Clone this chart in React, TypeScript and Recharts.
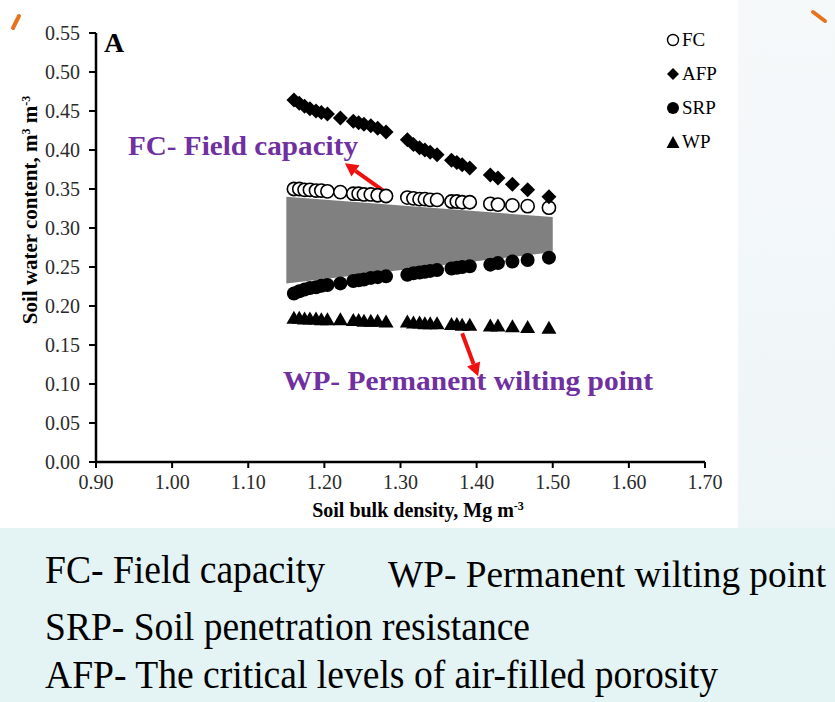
import React from "react";
import { ComposedChart, Area, Scatter, XAxis, YAxis, Legend, ReferenceLine } from "recharts";

// soil bulk density (Mg m-3) of each sample
const bulkDensity = [
  1.16, 1.167, 1.174, 1.181, 1.189, 1.196, 1.204, 1.221, 1.238, 1.245, 1.252, 1.261, 1.27, 1.281, 1.309,
  1.317, 1.325, 1.332, 1.339, 1.348, 1.367, 1.374, 1.381, 1.391, 1.418, 1.428, 1.447, 1.467, 1.495,
];
const fcValues = [
  0.35, 0.35, 0.349, 0.349, 0.348, 0.348, 0.347, 0.346, 0.344, 0.344, 0.343, 0.343, 0.342, 0.341, 0.339,
  0.338, 0.337, 0.337, 0.336, 0.336, 0.334, 0.334, 0.333, 0.333, 0.331, 0.33, 0.329, 0.328, 0.326,
];
const afpValues = [
  0.464, 0.46, 0.456, 0.453, 0.45, 0.448, 0.446, 0.441, 0.437, 0.435, 0.433, 0.431, 0.428, 0.423, 0.413,
  0.407, 0.403, 0.4, 0.397, 0.394, 0.387, 0.384, 0.381, 0.377, 0.368, 0.364, 0.356, 0.349, 0.34,
];
const srpValues = [
  0.216, 0.219, 0.221, 0.223, 0.224, 0.226, 0.227, 0.229, 0.232, 0.233, 0.234, 0.236, 0.237, 0.238, 0.24,
  0.242, 0.243, 0.244, 0.245, 0.246, 0.248, 0.249, 0.25, 0.251, 0.253, 0.255, 0.257, 0.259, 0.262,
];
const wpValues = [
  0.185, 0.185, 0.184, 0.184, 0.184, 0.183, 0.183, 0.183, 0.182, 0.182, 0.181, 0.181, 0.181, 0.18, 0.18,
  0.179, 0.179, 0.178, 0.178, 0.178, 0.177, 0.177, 0.176, 0.176, 0.175, 0.175, 0.174, 0.173, 0.172,
];

// grey band (least limiting water range)
const bandDensity = [1.15, 1.5];
const bandLow = [0.229, 0.269];
const bandHigh = [0.34, 0.314];

const xTicks = [0.9, 1.0, 1.1, 1.2, 1.3, 1.4, 1.5, 1.6, 1.7];
const yTicks = [0, 0.05, 0.1, 0.15, 0.2, 0.25, 0.3, 0.35, 0.4, 0.45, 0.5, 0.55];
const legendNames = ["FC", "AFP", "SRP", "WP"];

const FONT = '"Liberation Serif", "Times New Roman", serif';

const toPoints = (vals: number[]) => bulkDensity.map((x, i) => ({ x, y: vals[i] }));
const bandData = bandDensity.map((x, i) => ({ x, range: [bandLow[i], bandHigh[i]] }));

const OpenCircle = (p: any) => <circle cx={p.cx} cy={p.cy} r={6.6} fill="#fff" stroke="#000" strokeWidth={1.6} />;
const Dot = (p: any) => <circle cx={p.cx} cy={p.cy} r={7} fill="#000" />;
const Diamond = (p: any) => (
  <polygon points={`${p.cx},${p.cy - 7.5} ${p.cx + 7.5},${p.cy} ${p.cx},${p.cy + 7.5} ${p.cx - 7.5},${p.cy}`} fill="#000" />
);
const Triangle = (p: any) => (
  <polygon points={`${p.cx},${p.cy - 7} ${p.cx + 7.5},${p.cy + 6} ${p.cx - 7.5},${p.cy + 6}`} fill="#000" />
);

const Arrow = (p: any) => {
  const { x1, y1, x2, y2 } = p;
  const len = Math.hypot(x2 - x1, y2 - y1) || 1;
  const ux = (x2 - x1) / len;
  const uy = (y2 - y1) / len;
  const bx = x2 - ux * 13;
  const by = y2 - uy * 13;
  return (
    <g>
      <line x1={x1} y1={y1} x2={bx} y2={by} stroke="#f01010" strokeWidth={4} />
      <polygon points={`${x2},${y2} ${bx - uy * 7},${by + ux * 7} ${bx + uy * 7},${by - ux * 7}`} fill="#f01010" />
    </g>
  );
};

const legendIcon = (name: string) => {
  if (name === "FC") return <circle cx={7} cy={7} r={5.5} fill="#fff" stroke="#000" strokeWidth={1.4} />;
  if (name === "AFP") return <polygon points="7,1 13,7 7,13 1,7" fill="#000" />;
  if (name === "SRP") return <circle cx={7} cy={7} r={6} fill="#000" />;
  return <polygon points="7,1 13.5,13 0.5,13" fill="#000" />;
};

const LegendBox = () => (
  <div style={{ fontFamily: FONT, fontSize: 19, color: "#000" }}>
    {legendNames.map((n) => (
      <div key={n} style={{ display: "flex", alignItems: "center", height: 34 }}>
        <svg width={15} height={14} style={{ marginRight: 1 }}>
          {legendIcon(n)}
        </svg>
        <span>{n}</span>
      </div>
    ))}
  </div>
);

export default function App() {
  return (
    <div style={{ position: "absolute", top: 0, left: 0, width: 835, height: 702, background: "#e4f3f3", overflow: "hidden" }}>
      <div style={{ position: "absolute", left: 738, top: 0, width: 97, height: 528, background: "linear-gradient(180deg,#f6f9fa,#eef5f7)" }} />
      <div style={{ position: "absolute", left: 0, top: 0, width: 738, height: 528, background: "#fff" }}>
        <ComposedChart width={738} height={528} data={bandData} margin={{ top: 33, right: 33, left: 0, bottom: 0 }}>
          <XAxis
            dataKey="x"
            type="number"
            domain={[0.9, 1.7]}
            ticks={xTicks}
            interval={0}
            tickFormatter={(v: number) => v.toFixed(2)}
            height={66}
            tickSize={6}
            tickMargin={7}
            axisLine={{ stroke: "#000", strokeWidth: 2.5 }}
            tickLine={{ stroke: "#000", strokeWidth: 2 }}
            tick={{ fill: "#2a2a2a", fontSize: 20, fontFamily: FONT }}
          />
          <YAxis
            type="number"
            domain={[0, 0.55]}
            ticks={yTicks}
            interval={0}
            tickFormatter={(v: number) => v.toFixed(2)}
            width={96}
            tickSize={7}
            tickMargin={9}
            axisLine={{ stroke: "#000", strokeWidth: 2.5 }}
            tickLine={{ stroke: "#000", strokeWidth: 2 }}
            tick={{ fill: "#2a2a2a", fontSize: 20, fontFamily: FONT }}
          />
          <Area
            dataKey="range"
            type="linear"
            stroke="none"
            fill="#808080"
            fillOpacity={1}
            dot={false}
            activeDot={false}
            isAnimationActive={false}
          />
          <Scatter name="FC" data={toPoints(fcValues)} dataKey="y" shape={OpenCircle} isAnimationActive={false} />
          <Scatter name="AFP" data={toPoints(afpValues)} dataKey="y" shape={Diamond} isAnimationActive={false} />
          <Scatter name="SRP" data={toPoints(srpValues)} dataKey="y" shape={Dot} isAnimationActive={false} />
          <Scatter name="WP" data={toPoints(wpValues)} dataKey="y" shape={Triangle} isAnimationActive={false} />
          <ReferenceLine segment={[{ x: 1.28, y: 0.346 }, { x: 1.227, y: 0.383 }]} shape={Arrow} />
          <ReferenceLine segment={[{ x: 1.381, y: 0.165 }, { x: 1.402, y: 0.11 }]} shape={Arrow} />
          <Legend
            layout="horizontal"
            verticalAlign="middle"
            align="center"
            wrapperStyle={{ top: 23, left: 666, width: 70 }}
            content={() => <LegendBox />}
          />
        </ComposedChart>
      </div>
      <svg width={835} height={702} style={{ position: "absolute", left: 0, top: 0, pointerEvents: "none" }}>
        <line x1={19} y1={16} x2={13} y2={28} stroke="#e8731f" strokeWidth={4} strokeLinecap="round" />
        <line x1={813} y1={12} x2={825} y2={21} stroke="#e8731f" strokeWidth={4} strokeLinecap="round" />
        <text x={104} y={52} fontFamily={FONT} fontWeight="bold" fontSize={28}>A</text>
        <text x={128} y={155} fontFamily={FONT} fontWeight="bold" fontSize={28} fill="#7030a0" textLength={230} lengthAdjust="spacingAndGlyphs">
          FC- Field capacity
        </text>
        <text x={283} y={390} fontFamily={FONT} fontWeight="bold" fontSize={28} fill="#7030a0" textLength={370} lengthAdjust="spacingAndGlyphs">
          WP- Permanent wilting point
        </text>
        <text x={418} y={517} textAnchor="middle" fontFamily={FONT} fontWeight="bold" fontSize={20}>
          Soil bulk density, Mg m<tspan dy={-7} fontSize={12}>-3</tspan>
        </text>
        <text transform="translate(37,210) rotate(-90)" textAnchor="middle" fontFamily={FONT} fontWeight="bold" fontSize={21}>
          Soil water content, m<tspan dy={-7} fontSize={12}>3</tspan>
          <tspan dy={7}> m</tspan>
          <tspan dy={-7} fontSize={12}>-3</tspan>
        </text>
        <text x={45} y={583} fontFamily={FONT} fontSize={40} textLength={280} lengthAdjust="spacingAndGlyphs">FC- Field capacity</text>
        <text x={388} y={587} fontFamily={FONT} fontSize={37} textLength={438} lengthAdjust="spacingAndGlyphs">WP- Permanent wilting point</text>
        <text x={45} y={640} fontFamily={FONT} fontSize={40} textLength={485} lengthAdjust="spacingAndGlyphs">SRP- Soil penetration resistance</text>
        <text x={45} y={688} fontFamily={FONT} fontSize={40} textLength={673} lengthAdjust="spacingAndGlyphs">
          AFP- The critical levels of air-filled porosity
        </text>
      </svg>
    </div>
  );
}
